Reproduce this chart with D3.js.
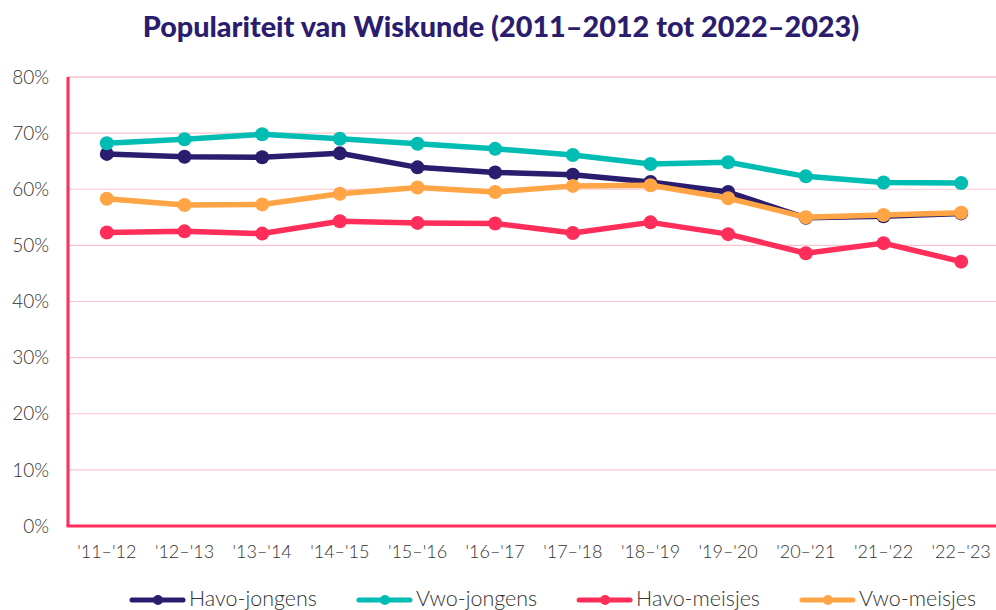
<!DOCTYPE html>
<html>
<head>
<meta charset="utf-8">
<script src="https://cdn.jsdelivr.net/npm/d3@7"></script>
<style>
  body { margin: 0; background: #fff; }
  svg { display: block; }
  .tick-label { font-family: Lato, "Open Sans", sans-serif; font-weight: 300; fill: #333; }
</style>
</head>
<body>
<div id="chart"></div>
<script>
const width = 996;
const height = 610;

const seasons = ["'11-'12", "'12-'13", "'13-'14", "'14-'15", "'15-'16", "'16-'17",
                 "'17-'18", "'18-'19", "'19-'20", "'20-'21", "'21-'22", "'22-'23"];
const yTicks = [0, 10, 20, 30, 40, 50, 60, 70, 80];

const havoJongens = [66.3, 65.8, 65.7, 66.4, 63.9, 63.0, 62.6, 61.3, 59.5, 54.9, 55.2, 55.7];
const vwoJongens  = [68.2, 68.9, 69.8, 69.0, 68.1, 67.2, 66.1, 64.5, 64.8, 62.3, 61.2, 61.1];
const havoMeisjes = [52.3, 52.5, 52.1, 54.3, 54.0, 53.9, 52.2, 54.1, 52.0, 48.6, 50.4, 47.1];
const vwoMeisjes  = [58.3, 57.2, 57.3, 59.2, 60.3, 59.5, 60.6, 60.7, 58.4, 55.0, 55.4, 55.8];

const seriesNames = ["Havo-jongens", "Vwo-jongens", "Havo-meisjes", "Vwo-meisjes"];
const seriesColors = ["#2b1d6e", "#00bdb3", "#ff2d5a", "#ffa545"];
const series = [havoJongens, vwoJongens, havoMeisjes, vwoMeisjes];

const margin = {left: 68, right: -4, top: 77, bottom: 84};

let svg = d3.select("#chart")
    .append("svg")
    .attr("width", width)
    .attr("height", height);

let x = d3.scaleBand()
    .domain(seasons)
    .range([margin.left, width - margin.right]);

let y = d3.scaleLinear()
    .domain([0, 80])
    .range([height - margin.bottom, margin.top]);

// title
let title = svg.append("text")
    .attr("x", 501)
    .attr("y", 37)
    .attr("text-anchor", "middle")
    .style("font-family", "Lato, 'Noto Sans', sans-serif")
    .style("font-weight", "900")
    .style("font-size", "26px")
    .style("fill", "#2b1d6e")
    .text("Populariteit van Wiskunde (2011\u20132012 tot 2022\u20132023)");
let tw = title.node().getComputedTextLength();
title.style("font-size", (26 * 717 / tw) + "px");

// gridlines
svg.append("g")
    .selectAll("line")
    .data(yTicks.filter(d => d > 0))
    .enter()
    .append("line")
    .attr("x1", margin.left)
    .attr("x2", width)
    .attr("y1", d => y(d))
    .attr("y2", d => y(d))
    .attr("stroke", d => d === 80 ? "#f5a3b3" : "#f9c4d0")
    .attr("stroke-width", 1.2);

// y labels
svg.append("g")
    .selectAll("text")
    .data(yTicks)
    .enter()
    .append("text")
    .attr("class", "tick-label")
    .attr("x", 49)
    .attr("y", d => y(d))
    .attr("dy", "0.35em")
    .attr("text-anchor", "end")
    .style("font-size", "19px")
    .text(d => d + "%");

// x labels
svg.append("g")
    .selectAll("text")
    .data(seasons)
    .enter()
    .append("text")
    .attr("class", "tick-label")
    .attr("x", d => x(d) + x.bandwidth() / 2)
    .attr("y", 558)
    .attr("text-anchor", "middle")
    .style("font-size", "18px")
    .text(d => d.replace("-", "\u2013"));

// axes
svg.append("line")
    .attr("x1", margin.left).attr("x2", margin.left)
    .attr("y1", y(80)).attr("y2", y(0))
    .attr("stroke", "#ff2d5a").attr("stroke-width", 3);
svg.append("line")
    .attr("x1", margin.left - 1.5).attr("x2", width)
    .attr("y1", y(0)).attr("y2", y(0))
    .attr("stroke", "#ff2d5a").attr("stroke-width", 3);

// lines
let line = d3.line()
    .x((d, i) => x(seasons[i]) + x.bandwidth() / 2)
    .y(d => y(d));

series.forEach(function(values, k) {
    let g = svg.append("g");
    g.append("path")
        .datum(values)
        .attr("d", line)
        .attr("fill", "none")
        .attr("stroke", seriesColors[k])
        .attr("stroke-width", 5.5)
        .attr("stroke-linejoin", "round");
    g.selectAll("circle")
        .data(values)
        .enter()
        .append("circle")
        .attr("cx", (d, i) => x(seasons[i]) + x.bandwidth() / 2)
        .attr("cy", d => y(d))
        .attr("r", 7)
        .attr("fill", seriesColors[k]);
});

// legend
let legendX = 130;
const legendY = 600;
let legendSize = 19;
seriesNames.forEach(function(name, k) {
    let g = svg.append("g").attr("transform", `translate(${legendX}, ${legendY})`);
    g.append("line")
        .attr("x1", 2).attr("x2", 53)
        .attr("y1", 0).attr("y2", 0)
        .attr("stroke", seriesColors[k])
        .attr("stroke-width", 5)
        .attr("stroke-linecap", "round");
    g.append("circle")
        .attr("cx", 28).attr("cy", 0).attr("r", 5)
        .attr("fill", seriesColors[k]);
    let t = g.append("text")
        .attr("class", "tick-label")
        .attr("x", 59)
        .attr("y", 6)
        .style("font-size", legendSize + "px")
        .text(name);
    if (k === 0) {
        // fit the legend font to the reference width of the first label
        legendSize = legendSize * 128 / t.node().getComputedTextLength();
        t.style("font-size", legendSize + "px");
    }
    legendX += 59 + t.node().getComputedTextLength() + 40;
});
</script>
</body>
</html>
